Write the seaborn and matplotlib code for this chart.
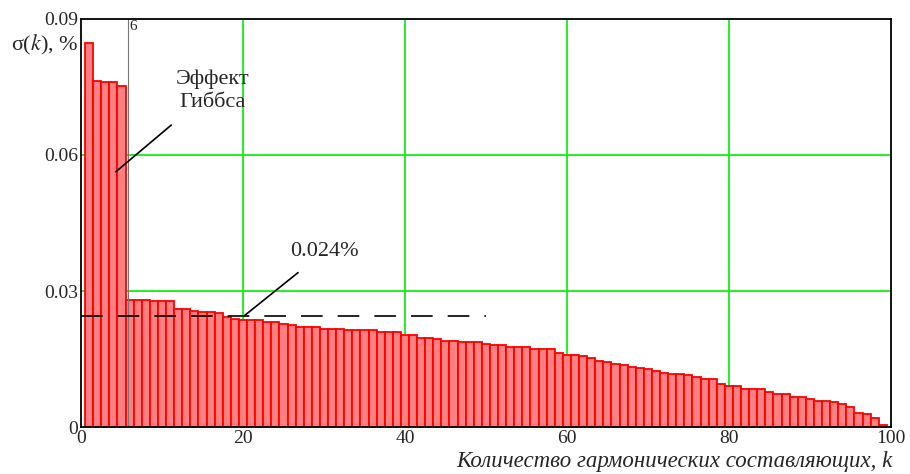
import numpy as np
import pandas as pd
import matplotlib
matplotlib.use("Agg")
import matplotlib.pyplot as plt
import seaborn as sns

# harmonic number k = 1..99 and the error sigma(k), %
harmonics = np.arange(1, 100)
sigma = [
    0.0848, 0.0763, 0.0760, 0.0760, 0.0752, 0.0280, 0.0280, 0.0280, 0.0277, 0.0277,
    0.0277, 0.0260, 0.0260, 0.0257, 0.0253, 0.0253, 0.0252, 0.0243, 0.0238, 0.0236,
    0.0236, 0.0236, 0.0232, 0.0232, 0.0227, 0.0224, 0.0220, 0.0220, 0.0220, 0.0217,
    0.0217, 0.0217, 0.0213, 0.0213, 0.0213, 0.0213, 0.0210, 0.0210, 0.0210, 0.0204,
    0.0204, 0.0197, 0.0197, 0.0194, 0.0190, 0.0190, 0.0187, 0.0187, 0.0187, 0.0184,
    0.0180, 0.0180, 0.0177, 0.0177, 0.0177, 0.0173, 0.0173, 0.0173, 0.0164, 0.0160,
    0.0160, 0.0157, 0.0153, 0.0146, 0.0143, 0.0140, 0.0137, 0.0133, 0.0130, 0.0127,
    0.0124, 0.0120, 0.0118, 0.0118, 0.0114, 0.0110, 0.0107, 0.0107, 0.0094, 0.0091,
    0.0091, 0.0084, 0.0084, 0.0084, 0.0078, 0.0074, 0.0074, 0.0067, 0.0067, 0.0061,
    0.0058, 0.0058, 0.0055, 0.0051, 0.0045, 0.0032, 0.0028, 0.0021, 0.0005,
]
mean_level = 0.0245      # dashed reference level (0.024%)
mean_range = [0, 50]
gibbs_k = 6

x_ticks = [0, 20, 40, 60, 80, 100]
y_ticks = [0, 0.03, 0.06, 0.09]
y_tick_labels = ["0", "0.03", "0.06", "0.09"]

df = pd.DataFrame({"k": harmonics, "sigma": sigma})

sns.set_theme(style="white")
plt.rcParams["font.family"] = ["Liberation Serif", "DejaVu Serif"]
plt.rcParams["mathtext.fontset"] = "stix"

fig = plt.figure(figsize=(9.1, 4.74), dpi=100)
ax = fig.add_axes([0.089, 0.099, 0.890, 0.861])

# green grid behind the bars
for gx in x_ticks[1:-1]:
    ax.axvline(gx, color="#00ee00", lw=1.2, zorder=0)
for gy in y_ticks[1:-1]:
    ax.axhline(gy, color="#00ee00", lw=1.2, zorder=0)

sns.barplot(data=df, x="k", y="sigma", native_scale=True, width=1.0,
            color="#ff8080", saturation=1, edgecolor="#ff0000", linewidth=1.3,
            errorbar=None, ax=ax, zorder=2)

# marker of the Gibbs zone
ax.axvline(gibbs_k - 0.2, color="#777777", lw=0.8, zorder=3)
ax.text(gibbs_k, 0.0897, str(gibbs_k), fontsize=11, ha="left", va="top")

# dashed level
ax.plot(mean_range, [mean_level, mean_level], color="black", lw=1.2,
        dashes=(13, 9), zorder=4)

ax.annotate("Эффект\nГиббса", xy=(4.3, 0.0563), xytext=(16.2, 0.0742),
            ha="center", va="center", fontsize=16, linespacing=1.3,
            arrowprops=dict(arrowstyle="-", color="black", lw=1.2,
                            shrinkA=11, shrinkB=0))
ax.annotate("0.024%", xy=(20.2, 0.0246), xytext=(30.1, 0.0388),
            ha="center", va="center", fontsize=16,
            arrowprops=dict(arrowstyle="-", color="black", lw=1.2,
                            shrinkA=10, shrinkB=0))

ax.set_xlim(0, 100)
ax.set_ylim(0, 0.09)
ax.set_xticks(x_ticks)
ax.set_xticklabels([str(t) for t in x_ticks])
ax.set_yticks(y_ticks)
ax.set_yticklabels(y_tick_labels)
ax.tick_params(axis="both", labelsize=14, length=0, pad=2)
ax.set_xlabel("")
ax.set_ylabel("")

for side in ["left", "bottom", "top", "right"]:
    ax.spines[side].set_visible(True)
    ax.spines[side].set_color("black")
    ax.spines[side].set_linewidth(1.3)
    ax.spines[side].set_zorder(5)

fig.text(0.012, 0.905, "σ($k$), %", fontsize=16, ha="left", va="center")
fig.text(0.981, 0.027, "Количество гармонических составляющих, k",
         fontsize=16.5, style="italic", ha="right", va="center")

fig.savefig("out.png", dpi=100)
